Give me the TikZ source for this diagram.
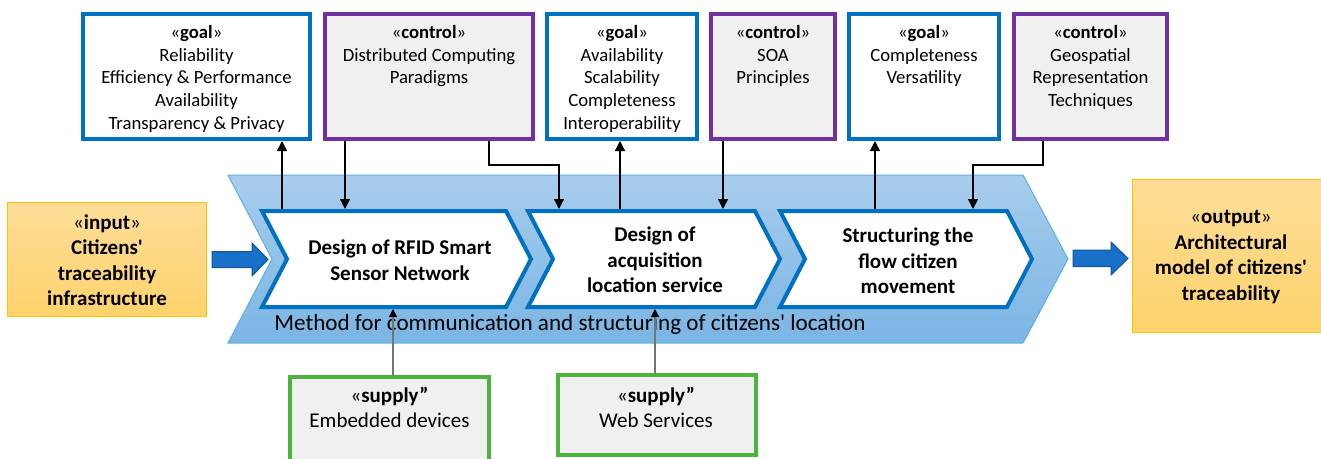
\documentclass[tikz,border=0pt]{standalone}
\usepackage{fontspec}
\setmainfont{Carlito}[Ligatures=TeXOff]
\usetikzlibrary{arrows.meta,calc}
\definecolor{gblue}{RGB}{0,112,192}
\definecolor{cpurple}{RGB}{112,48,160}
\definecolor{sgreen}{RGB}{77,178,62}
\definecolor{lgray}{RGB}{240,240,240}
\definecolor{bigtop}{RGB}{168,205,236}
\definecolor{bigbot}{RGB}{122,181,228}
\definecolor{bigline}{RGB}{91,176,225}
\definecolor{orgtop}{RGB}{253,221,152}
\definecolor{orgbot}{RGB}{254,211,108}
\definecolor{orgline}{RGB}{255,192,0}
\definecolor{barrow}{RGB}{24,112,200}
\definecolor{barrowline}{RGB}{20,84,150}
\newcommand{\myguil}{{\mdseries «}}
\newcommand{\myguir}{{\mdseries »}}
\tikzset{
  topbox/.style={line width=4pt, minimum height=125pt, inner sep=0pt},
  goalbox/.style={topbox, draw=gblue, fill=white},
  ctrlbox/.style={topbox, draw=cpurple, fill=lgray},
  supbox/.style={line width=4pt, draw=sgreen, fill=lgray, inner sep=0pt},
  iobox/.style={line width=1pt, draw=orgline, top color=orgtop, bottom color=orgbot, inner sep=0pt},
  boxtext/.style={anchor=north, inner sep=0pt, align=center, font=\fontsize{18.7}{22.7}\selectfont},
  suptext/.style={anchor=north, inner sep=0pt, align=center, font=\fontsize{21}{25}\selectfont},
  boldtext/.style={inner sep=0pt, align=center, font=\fontsize{21}{25.5}\selectfont\bfseries},
  chev/.style={draw=gblue, fill=white, line width=4pt, line join=miter},
  bigchev/.style={draw=bigline, line width=1pt, top color=bigtop, bottom color=bigbot},
  blockarrow/.style={draw=barrowline, line width=1pt, fill=barrow, line join=miter},
  arr/.style={line width=1.3pt, -{Triangle[width=10pt,length=10pt]}},
  suparr/.style={line width=1.2pt, draw=black!55, -{Triangle[width=8pt,length=8pt,color=black]}}
}
\begin{document}
\begin{tikzpicture}[x=1pt,y=-1pt]
\useasboundingbox (0,0) rectangle (1321,458);
\fill[white] (0,0) rectangle (1321,458);

% big chevron
\path[bigchev] (228,175) -- (1023,175) -- (1068,259) -- (1023,343) -- (228,343) -- (272,259) -- cycle;
\node[anchor=base, inner sep=0pt, font=\fontsize{23.1}{26}\selectfont] (method) at (570,330) {Method for communication and structuring of citizens' location};

% inner chevrons
\path[chev] (262,211) -- (506,211) -- (531,259) -- (506,307) -- (262,307) -- (287,259) -- cycle;
\path[chev] (528,211) -- (755,211) -- (780,259) -- (755,307) -- (528,307) -- (553,259) -- cycle;
\path[chev] (780,211) -- (1007,211) -- (1032,259) -- (1007,307) -- (780,307) -- (805,259) -- cycle;
\node[boldtext] (ch1) at (400,260) {Design of RFID Smart\\Sensor Network};
\node[boldtext] (ch2) at (655,260) {Design of\\acquisition\\location service};
\node[boldtext] (ch3) at (908,261) {Structuring the\\flow citizen\\movement};

% top boxes
\node[goalbox, minimum width=227pt] (g1) at (196.5,76.5) {};
\node[ctrlbox, minimum width=208pt] (c1) at (429,76.5) {};
\node[goalbox, minimum width=150pt] (g2) at (622,76.5) {};
\node[ctrlbox, minimum width=124pt] (c2) at (773,76.5) {};
\node[goalbox, minimum width=150pt] (g3) at (924,76.5) {};
\node[ctrlbox, minimum width=153pt] (c3) at (1090.5,76.5) {};
\node[boxtext] (g1t) at (196.5,25) {«\textbf{goal}»\\Reliability\\Efficiency \& Performance\\Availability\\Transparency \& Privacy};
\node[boxtext] (c1t) at (429,25) {«\textbf{control}»\\Distributed Computing\\Paradigms};
\node[boxtext] (g2t) at (622,25) {«\textbf{goal}»\\Availability\\Scalability\\Completeness\\Interoperability};
\node[boxtext] (c2t) at (773,25) {«\textbf{control}»\\SOA\\Principles};
\node[boxtext] (g3t) at (924,25) {«\textbf{goal}»\\Completeness\\Versatility};
\node[boxtext] (c3t) at (1090.5,25) {«\textbf{control}»\\Geospatial\\Representation\\Techniques};

% input / output
\node[iobox, minimum width=199pt, minimum height=114pt] (inp) at (107,259.5) {};
\node[boldtext] (inpt) at (107,260) {\myguil input\myguir\\Citizens'\\traceability\\infrastructure};
\node[iobox, minimum width=197pt, minimum height=153pt] (outp) at (1231,256) {};
\node[boldtext] (outpt) at (1231,257) {\myguil output\myguir\\Architectural\\model of citizens'\\traceability};

% block arrows
\path[blockarrow] (212,251.5) -- (252,251.5) -- (252,243) -- (268,259.5) -- (252,276) -- (252,267.5) -- (212,267.5) -- cycle;
\path[blockarrow] (1073,250) -- (1111,250) -- (1111,242) -- (1128,258.5) -- (1111,275) -- (1111,266.5) -- (1073,266.5) -- cycle;

% supply boxes
\node[supbox, minimum width=199pt, minimum height=93pt] (s1) at (389.5,423.5) {};
\node[supbox, minimum width=198pt, minimum height=80pt] (s2) at (657,415) {};
\node[suptext] (s1t) at (389.5,387) {«\textbf{supply”}\\Embedded devices};
\node[suptext] (s2t) at (656,387) {«\textbf{supply”}\\Web Services};

% connector points on the chevrons
\coordinate (p1) at (282,209);
\coordinate (p2) at (345,209);
\coordinate (p3) at (559,209);
\coordinate (p4) at (620,209);
\coordinate (p5) at (723,209);
\coordinate (p6) at (875,209);
\coordinate (p7) at (973,209);
\coordinate (q1) at (393,309);
\coordinate (q2) at (655,309);
\coordinate (e1) at (489,165);
\coordinate (e2) at (1043,165);

\draw[arr] (p1) -- (p1 |- g1.south);
\draw[arr] (p2 |- c1.south) -- (p2);
\draw[arr] (e1 |- c1.south) -- (e1) -| (p3);
\draw[arr] (p4) -- (p4 |- g2.south);
\draw[arr] (p5 |- c2.south) -- (p5);
\draw[arr] (p6) -- (p6 |- g3.south);
\draw[arr] (e2 |- c3.south) -- (e2) -| (p7);
\draw[suparr] (q1 |- s1.north) -- (q1);
\draw[suparr] (q2 |- s2.north) -- (q2);
\end{tikzpicture}
\end{document}
